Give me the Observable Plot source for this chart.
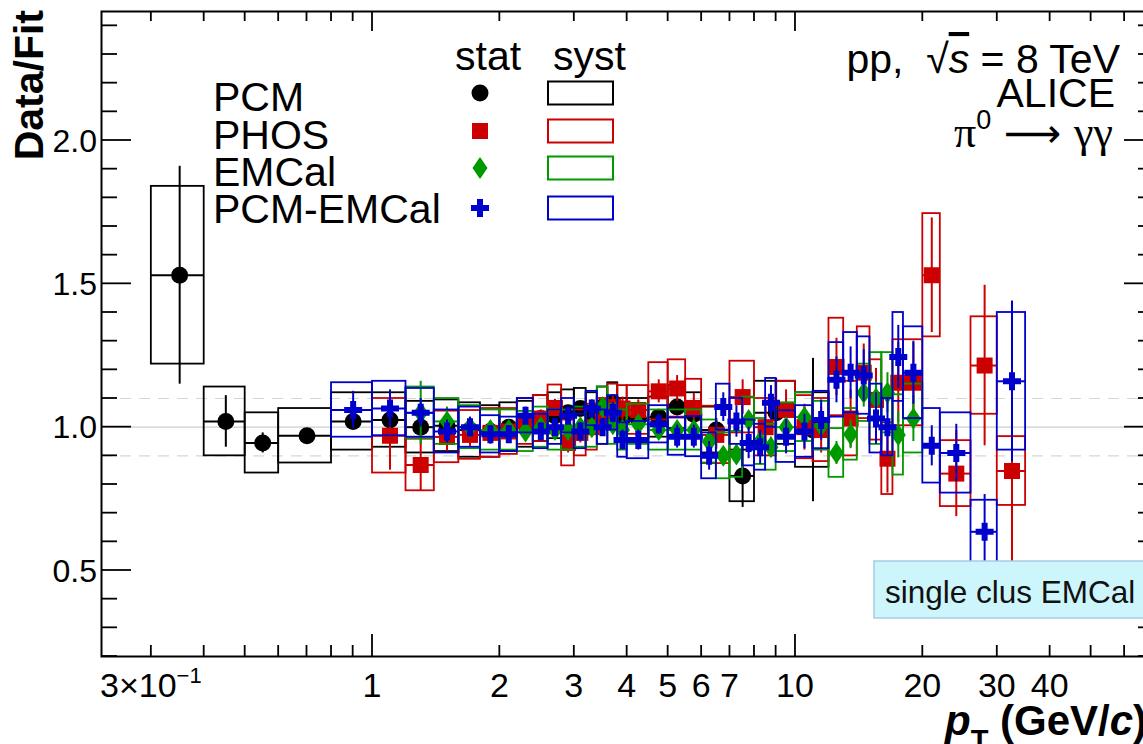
<!DOCTYPE html>
<html><head><meta charset="utf-8">
<script src="https://cdn.jsdelivr.net/npm/d3@7"></script>
<script src="https://cdn.jsdelivr.net/npm/@observablehq/plot@0.6"></script>
<style>
html,body{margin:0;padding:0;background:#fff;overflow:hidden;width:1143px;height:744px}
#chart{width:1143px;height:744px;overflow:hidden}
#chart svg{display:block;max-width:none !important;width:1160px;height:744px}
</style></head><body><div id="chart"></div>
<script>
// ---------------- data ----------------
const pcmLo   = [0.3,0.4,0.5,0.6,0.8,1.0,1.2,1.4,1.6,1.8,2.0,2.2,2.4,2.6,2.8,3.0,3.2,3.4,3.6,3.8,4.0,4.5,5.0,5.5,6.0,7.0,8.0,10.0];
const pcmHi   = [0.4,0.5,0.6,0.8,1.0,1.2,1.4,1.6,1.8,2.0,2.2,2.4,2.6,2.8,3.0,3.2,3.4,3.6,3.8,4.0,4.5,5.0,5.5,6.0,7.0,8.0,10.0,12.0];
const pcmVal  = [1.53,1.02,0.945,0.97,1.02,1.025,1.0,1.005,0.99,0.985,1.0,1.01,1.03,1.04,1.05,1.065,1.05,1.07,1.085,1.03,1.03,1.035,1.07,1.045,0.99,0.83,1.05,0.99];
const pcmStat = [0.38,0.09,0.035,0.01,0.01,0.01,0.01,0.01,0.01,0.01,0.01,0.01,0.012,0.012,0.015,0.015,0.015,0.02,0.02,0.02,0.02,0.025,0.03,0.035,0.04,0.11,0.12,0.25];
const pcmSyst = [0.31,0.12,0.105,0.095,0.1,0.095,0.09,0.09,0.095,0.09,0.085,0.08,0.08,0.08,0.08,0.07,0.07,0.07,0.07,0.07,0.07,0.07,0.075,0.075,0.08,0.09,0.11,0.13];

const phosLo   = [1.0,1.2,1.4,1.6,1.8,2.0,2.2,2.4,2.6,2.8,3.0,3.2,3.4,3.6,3.8,4.0,4.5,5.0,5.5,6.0,7.0,8.0,9.0,10,11,12,13,14,15,16,17,18,20,22,26,30];
const phosHi   = [1.2,1.4,1.6,1.8,2.0,2.2,2.4,2.6,2.8,3.0,3.2,3.4,3.6,3.8,4.0,4.5,5.0,5.5,6.0,7.0,8.0,9.0,10,11,12,13,14,15,16,17,18,20,22,26,30,35];
const phosVal  = [0.97,0.868,0.966,0.973,0.98,0.985,1.02,1.03,1.067,0.945,0.98,1.0,1.02,1.07,1.065,1.06,1.125,1.135,1.067,0.973,1.105,1.0,1.06,1.0,0.99,1.21,1.03,1.19,1.095,0.89,1.155,1.155,1.53,0.838,1.215,0.847];
const phosStat = [0.12,0.09,0.05,0.04,0.04,0.03,0.03,0.03,0.03,0.035,0.035,0.035,0.04,0.04,0.04,0.035,0.04,0.045,0.05,0.05,0.06,0.07,0.07,0.08,0.08,0.1,0.1,0.1,0.11,0.12,0.14,0.14,0.2,0.15,0.28,0.32];
const phosSyst = [0.13,0.09,0.09,0.085,0.085,0.08,0.08,0.08,0.08,0.08,0.08,0.08,0.08,0.08,0.08,0.085,0.1,0.1,0.1,0.1,0.125,0.1,0.1,0.11,0.11,0.17,0.13,0.16,0.14,0.125,0.15,0.15,0.215,0.115,0.17,0.12];

const emcLo   = [1.2,1.4,1.6,1.8,2.0,2.2,2.4,2.6,2.8,3.0,3.2,3.4,3.6,3.8,4.0,4.5,5.0,5.5,6.0,6.5,7.0,7.5,8.0,8.5,9,10,11,12,13,14,15,16,17,18];
const emcHi   = [1.4,1.6,1.8,2.0,2.2,2.4,2.6,2.8,3.0,3.2,3.4,3.6,3.8,4.0,4.5,5.0,5.5,6.0,6.5,7.0,7.5,8.0,8.5,9,10,11,12,13,14,15,16,17,18,20];
const emcVal  = [1.05,1.02,1.0,0.99,0.99,0.985,1.0,0.99,0.99,1.0,1.0,1.07,1.01,0.99,1.01,0.99,0.99,0.99,0.95,0.9,0.905,1.025,0.95,0.93,1.0,1.035,1.005,0.91,0.975,1.12,1.1,1.12,0.973,1.03];
const emcStat = [0.11,0.05,0.03,0.02,0.02,0.02,0.02,0.02,0.02,0.02,0.02,0.02,0.02,0.02,0.02,0.02,0.02,0.02,0.025,0.025,0.03,0.03,0.03,0.035,0.03,0.035,0.04,0.04,0.05,0.05,0.06,0.07,0.08,0.08];
const emcSyst = [0.09,0.08,0.075,0.07,0.07,0.07,0.07,0.07,0.07,0.07,0.07,0.07,0.07,0.07,0.07,0.07,0.07,0.07,0.075,0.08,0.08,0.08,0.08,0.08,0.085,0.085,0.085,0.085,0.09,0.1,0.16,0.14,0.14,0.12];

const pceLo   = [0.8,1.0,1.2,1.4,1.6,1.8,2.0,2.2,2.4,2.6,2.8,3.0,3.2,3.4,3.6,3.8,4.0,4.5,5.0,5.5,6.0,6.5,7.0,7.5,8.0,8.5,9,10,11,12,13,14,15,16,17,18,20,22,26,30];
const pceHi   = [1.0,1.2,1.4,1.6,1.8,2.0,2.2,2.4,2.6,2.8,3.0,3.2,3.4,3.6,3.8,4.0,4.5,5.0,5.5,6.0,6.5,7.0,7.5,8.0,8.5,9,10,11,12,13,14,15,16,17,18,20,22,26,30,35];
const pceVal  = [1.06,1.065,1.05,0.985,1.0,0.975,0.975,1.04,0.985,1.0,1.04,0.985,1.065,1.0,1.05,0.955,0.955,1.01,0.967,0.967,0.9,1.07,1.02,0.945,0.93,1.085,0.967,0.985,1.025,1.165,1.19,1.18,1.03,1.0,1.245,1.19,0.935,0.91,0.635,1.16];
const pceStat = [0.065,0.065,0.05,0.04,0.035,0.03,0.03,0.03,0.03,0.03,0.03,0.03,0.03,0.03,0.035,0.035,0.035,0.035,0.04,0.04,0.05,0.05,0.055,0.055,0.06,0.06,0.06,0.06,0.07,0.08,0.09,0.09,0.09,0.1,0.11,0.11,0.07,0.1,0.13,0.28];
const pceSyst = [0.095,0.095,0.085,0.075,0.07,0.065,0.06,0.06,0.06,0.06,0.06,0.06,0.06,0.06,0.06,0.06,0.065,0.065,0.065,0.07,0.08,0.08,0.08,0.08,0.08,0.085,0.09,0.09,0.1,0.13,0.14,0.135,0.12,0.1,0.155,0.16,0.13,0.14,0.11,0.24];

const seriesNames = ["PCM","PHOS","EMCal","PCM-EMCal"];
const seriesColors = ["#000000","#cc0000","#009900","#0000cc"];
const yTickLabels = [0.5,1.0,1.5,2.0];
const xTickLabels = [0.3,1,2,3,4,5,6,7,10,20,30,40];

// ---------------- helpers ----------------
function rows(lo, hi, val, stat, syst){
  return lo.map((l,i)=>({lo:l, hi:hi[i], x:(l+hi[i])/2, v:val[i], st:stat[i], sy:syst[i]}));
}
const datasets = [
  rows(pcmLo,pcmHi,pcmVal,pcmStat,pcmSyst),
  rows(phosLo,phosHi,phosVal,phosStat,phosSyst),
  rows(emcLo,emcHi,emcVal,emcStat,emcSyst),
  rows(pceLo,pceHi,pceVal,pceStat,pceSyst)
];
const symSquare = {draw(c){c.rect(-8,-8,16,16);}};
const symDiamond = {draw(c){c.moveTo(0,-11);c.lineTo(7.5,0);c.lineTo(0,11);c.lineTo(-7.5,0);c.closePath();}};
const symCross = {draw(c){const a=9,t=3;c.moveTo(-t,-a);c.lineTo(t,-a);c.lineTo(t,-t);c.lineTo(a,-t);c.lineTo(a,t);c.lineTo(t,t);c.lineTo(t,a);c.lineTo(-t,a);c.lineTo(-t,t);c.lineTo(-a,t);c.lineTo(-a,-t);c.lineTo(-t,-t);c.closePath();}};
const symbols = ["circle", symSquare, symDiamond, symCross];
const radii = [8.5, 8, 8, 8];

const marks = [
  Plot.ruleY([1.0], {stroke:"#cccccc", strokeWidth:1.3}),
  Plot.ruleY([0.9,1.1], {stroke:"#d6d6d6", strokeWidth:1.2, strokeDasharray:"11,8"})
];
datasets.forEach((d,k)=>{
  const c = seriesColors[k];
  marks.push(
    Plot.rect(d, {x1:"lo", x2:"hi", y1:r=>r.v-r.sy, y2:r=>r.v+r.sy, fill:"none", stroke:c, strokeWidth:1.8}),
    Plot.ruleX(d, {x:"x", y1:r=>r.v-r.st, y2:r=>r.v+r.st, stroke:c, strokeWidth:2}),
    Plot.ruleY(d, {y:"v", x1:"lo", x2:"hi", stroke:c, strokeWidth:2}),
    Plot.dot(d, {x:"x", y:"v", symbol:()=>symbols[k], r:radii[k], fill:c, stroke:"none"})
  );
});
marks.push(Plot.frame({stroke:"#000", strokeWidth:2}));

const chart = Plot.plot({
  width:1160, height:744,
  marginLeft:101, marginRight:6, marginTop:11, marginBottom:88,
  x:{type:"log", domain:[0.2287,70.6], axis:null},
  y:{domain:[0.2,2.45], axis:null},
  symbol:{type:"identity"},
  style:{maxWidth:"none"},
  marks
});
chart.style.maxWidth = "none";
document.getElementById("chart").appendChild(chart);

// ---------------- axes, ticks, texts ----------------
const xs = chart.scale("x"), ys = chart.scale("y");
const X = v=>xs.apply(v), Y = v=>ys.apply(v);
const svg = d3.select(chart);
const F = "'Liberation Sans', Arial, Helvetica, sans-serif";
const g = svg.append("g").attr("stroke","#000").attr("stroke-width",1.8);
const xL = X(xs.domain[0]), xR = X(xs.domain[1]), yB = Y(ys.domain[0]), yT = Y(ys.domain[1]);
function txt(x, y, anchor, size){
  return svg.append("text").attr("x",x).attr("y",y).attr("text-anchor",anchor)
    .attr("font-family",F).attr("font-size",size).attr("fill","#000");
}
// y ticks
d3.range(2,25).map(i=>i/10).forEach(v=>{
  const major = yTickLabels.some(t=>Math.abs(t-v)<1e-9);
  const len = major?30:16;
  g.append("line").attr("x1",xL).attr("x2",xL+len).attr("y1",Y(v)).attr("y2",Y(v));
  g.append("line").attr("x1",xR).attr("x2",xR-len).attr("y1",Y(v)).attr("y2",Y(v));
});
// x ticks
const xMinor = [0.3,0.4,0.5,0.6,0.7,0.8,0.9,2,3,4,5,6,7,8,9,20,30,40,50,60,70];
xMinor.forEach(v=>{
  g.append("line").attr("x1",X(v)).attr("x2",X(v)).attr("y1",yB).attr("y2",yB-11);
  g.append("line").attr("x1",X(v)).attr("x2",X(v)).attr("y1",yT).attr("y2",yT+10);
});
[1,10].forEach(v=>{
  g.append("line").attr("x1",X(v)).attr("x2",X(v)).attr("y1",yB).attr("y2",yB-22);
  g.append("line").attr("x1",X(v)).attr("x2",X(v)).attr("y1",yT).attr("y2",yT+20);
});
// y tick labels
yTickLabels.forEach(v=>{ txt(xL-4, Y(v)+11.5, "end", 32).text(v.toFixed(1)); });
// x tick labels
xTickLabels.forEach(v=>{
  const t = txt(X(v), 697, "middle", 34);
  if (v===0.3){
    t.append("tspan").text("3×10");
    t.append("tspan").attr("font-size",22).attr("dy",-14).text("−1");
  } else t.text(String(v));
});
// axis titles
svg.append("text").attr("transform",`translate(43,10) rotate(-90)`).attr("text-anchor","end")
  .attr("font-family",F).attr("font-weight","bold").attr("font-size",41).attr("fill","#000").text("Data/Fit");
const xt = txt(945, 735, "start", 42).attr("font-weight","bold");
xt.append("tspan").attr("font-style","italic").text("p");
xt.append("tspan").attr("font-size",29).attr("dy",15).text("T");
xt.append("tspan").attr("dy",-15).text(" (GeV/");
xt.append("tspan").attr("font-style","italic").text("c");
xt.append("tspan").text(")");

// legend
const legendY = [93,131,168,208];
const textBase = [111,149,186,223];
txt(455, 70, "start", 41).text("stat");
txt(553, 70, "start", 41).text("syst");
seriesNames.forEach((n,k)=>{
  txt(213, textBase[k], "start", 41).text(n);
  const sym = k===0 ? d3.symbolCircle : symbols[k];
  const size = k===0 ? Math.PI*8.5*8.5 : 64;
  svg.append("path").attr("d",d3.symbol(sym,size)()).attr("transform",`translate(480,${legendY[k]})`).attr("fill",seriesColors[k]);
  svg.append("rect").attr("x",548).attr("y",legendY[k]-11.5).attr("width",65).attr("height",23)
    .attr("fill","none").attr("stroke",seriesColors[k]).attr("stroke-width",2);
});

// top-right labels
const t1 = txt(1120, 73, "end", 41);
t1.append("tspan").text("pp,  √");
t1.append("tspan").attr("font-style","italic").style("text-decoration","overline").text("s");
t1.append("tspan").text(" = 8 TeV");
txt(1115, 107, "end", 41).text("ALICE");
const t3 = txt(1113, 147, "end", 44).attr("font-family","'Liberation Serif','DejaVu Serif',serif");
t3.append("tspan").text("π");
t3.append("tspan").attr("font-family",F).attr("font-size",27).attr("dy",-18).text("0");
t3.append("tspan").attr("dy",18).attr("font-family","'DejaVu Sans',sans-serif").attr("font-size",40).text(" ⟶ ");
t3.append("tspan").text("γγ");

// single clus EMCal box
svg.append("rect").attr("x",874).attr("y",561).attr("width",300).attr("height",57)
  .attr("fill","#ccf6fc").attr("stroke","#a8cbe3").attr("stroke-width",1.5);
txt(885, 603, "start", 31.5).attr("fill","#111").text("single clus EMCal");
</script></body></html>
